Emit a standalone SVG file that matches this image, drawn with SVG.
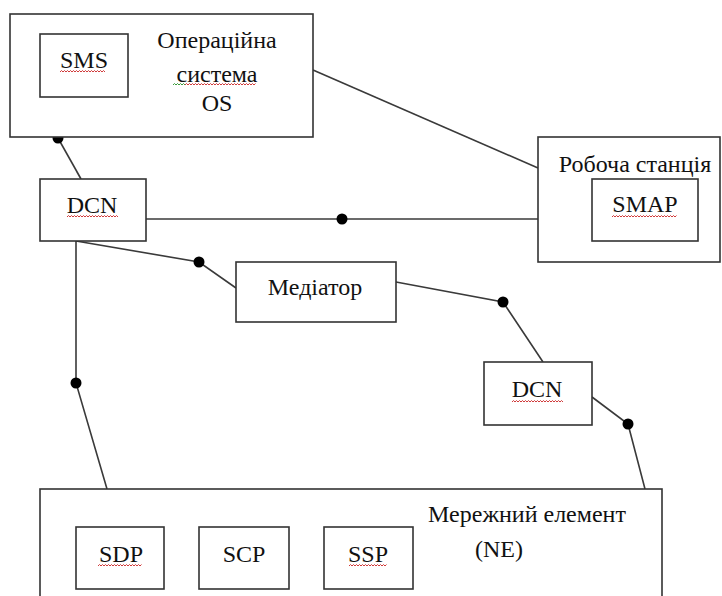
<svg xmlns="http://www.w3.org/2000/svg" width="722" height="596" viewBox="0 0 722 596">
<style>
.box{fill:#fff;stroke:#333;stroke-width:1.6}
.ln{fill:none;stroke:#3a3a3a;stroke-width:1.6}
.dot{fill:#000}
.t{font-family:'Liberation Serif','DejaVu Serif',serif;font-size:24px;fill:#111;text-anchor:middle}
.sq{fill:none;stroke:#d03a3a;stroke-width:1}
.sqg{fill:none;stroke:#3a9a3a;stroke-width:1}
</style>
<rect width="722" height="596" fill="#fff"/>
<g id="connectors">
<line class="ln" x1="313" y1="70" x2="538" y2="168"/>
<line class="ln" x1="58" y1="138" x2="81" y2="179"/>
<line class="ln" x1="146" y1="219" x2="538" y2="219"/>
<polyline class="ln" points="76,241 199,262 236,288"/>
<polyline class="ln" points="76,241 76,383 107,489"/>
<polyline class="ln" points="396,282 503,302 543,362"/>
<polyline class="ln" points="592,397 628,424 645,489"/>
<circle class="dot" cx="58" cy="138" r="5.5"/>
<circle class="dot" cx="342" cy="219" r="5.5"/>
<circle class="dot" cx="199" cy="262" r="5.5"/>
<circle class="dot" cx="76" cy="383" r="5.5"/>
<circle class="dot" cx="503" cy="302" r="5.5"/>
<circle class="dot" cx="628" cy="424" r="5.5"/>
</g>
<g id="os">
<rect class="box" x="10" y="14" width="303" height="123"/>
<text class="t" x="217" y="48" font-family="Liberation Serif, DejaVu Serif, serif">Операційна</text>
<text class="t" x="217" y="82" font-family="Liberation Serif, DejaVu Serif, serif">система</text>
<text class="t" x="217" y="111" font-family="Liberation Serif, DejaVu Serif, serif">OS</text>
<path class="sqg" d="M173,85 l1.5,-1.5 l1.5,1.5 l1.5,-1.5 l1.5,1.5 l1.5,-1.5 l1.5,1.5 l1.5,-1.5 l1.5,1.5"/>
<path class="sq" d="M185,85 l1.5,-1.5 l1.5,1.5 l1.5,-1.5 l1.5,1.5 l1.5,-1.5 l1.5,1.5 l1.5,-1.5 l1.5,1.5 l1.5,-1.5 l1.5,1.5 l1.5,-1.5 l1.5,1.5 l1.5,-1.5 l1.5,1.5 l1.5,-1.5 l1.5,1.5 l1.5,-1.5 l1.5,1.5 l1.5,-1.5 l1.5,1.5 l1.5,-1.5 l1.5,1.5 l1.5,-1.5 l1.5,1.5 l1.5,-1.5 l1.5,1.5 l1.5,-1.5 l1.5,1.5 l1.5,-1.5 l1.5,1.5 l1.5,-1.5 l1.5,1.5 l1.5,-1.5 l1.5,1.5 l1.5,-1.5 l1.5,1.5 l1.5,-1.5 l1.5,1.5 l1.5,-1.5 l1.5,1.5 l1.5,-1.5 l1.5,1.5 l1.5,-1.5 l1.5,1.5 l1.5,-1.5 l1.5,1.5 l1.5,-1.5"/>
</g>
<g id="sms">
<rect class="box" x="40" y="34" width="88" height="63"/>
<text class="t" x="84" y="68" font-family="Liberation Serif, DejaVu Serif, serif">SMS</text>
<path class="sq" d="M60,72 l1.5,-1.5 l1.5,1.5 l1.5,-1.5 l1.5,1.5 l1.5,-1.5 l1.5,1.5 l1.5,-1.5 l1.5,1.5 l1.5,-1.5 l1.5,1.5 l1.5,-1.5 l1.5,1.5 l1.5,-1.5 l1.5,1.5 l1.5,-1.5 l1.5,1.5 l1.5,-1.5 l1.5,1.5 l1.5,-1.5 l1.5,1.5 l1.5,-1.5 l1.5,1.5 l1.5,-1.5 l1.5,1.5 l1.5,-1.5 l1.5,1.5 l1.5,-1.5 l1.5,1.5 l1.5,-1.5 l1.5,1.5"/>
</g>
<g id="dcn1">
<rect class="box" x="40" y="179" width="106" height="62"/>
<text class="t" x="92" y="213" font-family="Liberation Serif, DejaVu Serif, serif">DCN</text>
<path class="sq" d="M67,217 l1.5,-1.5 l1.5,1.5 l1.5,-1.5 l1.5,1.5 l1.5,-1.5 l1.5,1.5 l1.5,-1.5 l1.5,1.5 l1.5,-1.5 l1.5,1.5 l1.5,-1.5 l1.5,1.5 l1.5,-1.5 l1.5,1.5 l1.5,-1.5 l1.5,1.5 l1.5,-1.5 l1.5,1.5 l1.5,-1.5 l1.5,1.5 l1.5,-1.5 l1.5,1.5 l1.5,-1.5 l1.5,1.5 l1.5,-1.5 l1.5,1.5 l1.5,-1.5 l1.5,1.5 l1.5,-1.5 l1.5,1.5 l1.5,-1.5 l1.5,1.5 l1.5,-1.5 l1.5,1.5"/>
</g>
<g id="workstation">
<rect class="box" x="538" y="137" width="182" height="125"/>
<text class="t" x="635" y="172" font-family="Liberation Serif, DejaVu Serif, serif">Робоча станція</text>
</g>
<g id="smap">
<rect class="box" x="592" y="179" width="106" height="62"/>
<text class="t" x="645" y="212" font-family="Liberation Serif, DejaVu Serif, serif">SMAP</text>
<path class="sq" d="M612,217 l1.5,-1.5 l1.5,1.5 l1.5,-1.5 l1.5,1.5 l1.5,-1.5 l1.5,1.5 l1.5,-1.5 l1.5,1.5 l1.5,-1.5 l1.5,1.5 l1.5,-1.5 l1.5,1.5 l1.5,-1.5 l1.5,1.5 l1.5,-1.5 l1.5,1.5 l1.5,-1.5 l1.5,1.5 l1.5,-1.5 l1.5,1.5 l1.5,-1.5 l1.5,1.5 l1.5,-1.5 l1.5,1.5 l1.5,-1.5 l1.5,1.5 l1.5,-1.5 l1.5,1.5 l1.5,-1.5 l1.5,1.5 l1.5,-1.5 l1.5,1.5 l1.5,-1.5 l1.5,1.5 l1.5,-1.5 l1.5,1.5 l1.5,-1.5 l1.5,1.5 l1.5,-1.5 l1.5,1.5 l1.5,-1.5 l1.5,1.5 l1.5,-1.5"/>
</g>
<g id="mediator">
<rect class="box" x="236" y="262" width="160" height="60"/>
<text class="t" x="315" y="295" font-family="Liberation Serif, DejaVu Serif, serif">Медіатор</text>
</g>
<g id="dcn2">
<rect class="box" x="484" y="362" width="108" height="63"/>
<text class="t" x="537" y="397" font-family="Liberation Serif, DejaVu Serif, serif">DCN</text>
<path class="sq" d="M512,402 l1.5,-1.5 l1.5,1.5 l1.5,-1.5 l1.5,1.5 l1.5,-1.5 l1.5,1.5 l1.5,-1.5 l1.5,1.5 l1.5,-1.5 l1.5,1.5 l1.5,-1.5 l1.5,1.5 l1.5,-1.5 l1.5,1.5 l1.5,-1.5 l1.5,1.5 l1.5,-1.5 l1.5,1.5 l1.5,-1.5 l1.5,1.5 l1.5,-1.5 l1.5,1.5 l1.5,-1.5 l1.5,1.5 l1.5,-1.5 l1.5,1.5 l1.5,-1.5 l1.5,1.5 l1.5,-1.5 l1.5,1.5 l1.5,-1.5 l1.5,1.5 l1.5,-1.5 l1.5,1.5"/>
</g>
<g id="ne">
<rect class="box" x="40" y="489" width="622" height="120"/>
<text class="t" x="527" y="522" font-family="Liberation Serif, DejaVu Serif, serif">Мережний елемент</text>
<text class="t" x="499" y="557" font-family="Liberation Serif, DejaVu Serif, serif">(NE)</text>
</g>
<g id="sdp">
<rect class="box" x="76" y="527" width="88" height="62"/>
<text class="t" x="121" y="562" font-family="Liberation Serif, DejaVu Serif, serif">SDP</text>
<path class="sq" d="M98,566 l1.5,-1.5 l1.5,1.5 l1.5,-1.5 l1.5,1.5 l1.5,-1.5 l1.5,1.5 l1.5,-1.5 l1.5,1.5 l1.5,-1.5 l1.5,1.5 l1.5,-1.5 l1.5,1.5 l1.5,-1.5 l1.5,1.5 l1.5,-1.5 l1.5,1.5 l1.5,-1.5 l1.5,1.5 l1.5,-1.5 l1.5,1.5 l1.5,-1.5 l1.5,1.5 l1.5,-1.5 l1.5,1.5 l1.5,-1.5 l1.5,1.5 l1.5,-1.5 l1.5,1.5 l1.5,-1.5"/>
</g>
<g id="scp">
<rect class="box" x="199" y="527" width="90" height="62"/>
<text class="t" x="244" y="562" font-family="Liberation Serif, DejaVu Serif, serif">SCP</text>
</g>
<g id="ssp">
<rect class="box" x="324" y="527" width="89" height="62"/>
<text class="t" x="368" y="562" font-family="Liberation Serif, DejaVu Serif, serif">SSP</text>
<path class="sq" d="M349,566 l1.5,-1.5 l1.5,1.5 l1.5,-1.5 l1.5,1.5 l1.5,-1.5 l1.5,1.5 l1.5,-1.5 l1.5,1.5 l1.5,-1.5 l1.5,1.5 l1.5,-1.5 l1.5,1.5 l1.5,-1.5 l1.5,1.5 l1.5,-1.5 l1.5,1.5 l1.5,-1.5 l1.5,1.5 l1.5,-1.5 l1.5,1.5 l1.5,-1.5 l1.5,1.5 l1.5,-1.5 l1.5,1.5 l1.5,-1.5"/>
</g>
</svg>
